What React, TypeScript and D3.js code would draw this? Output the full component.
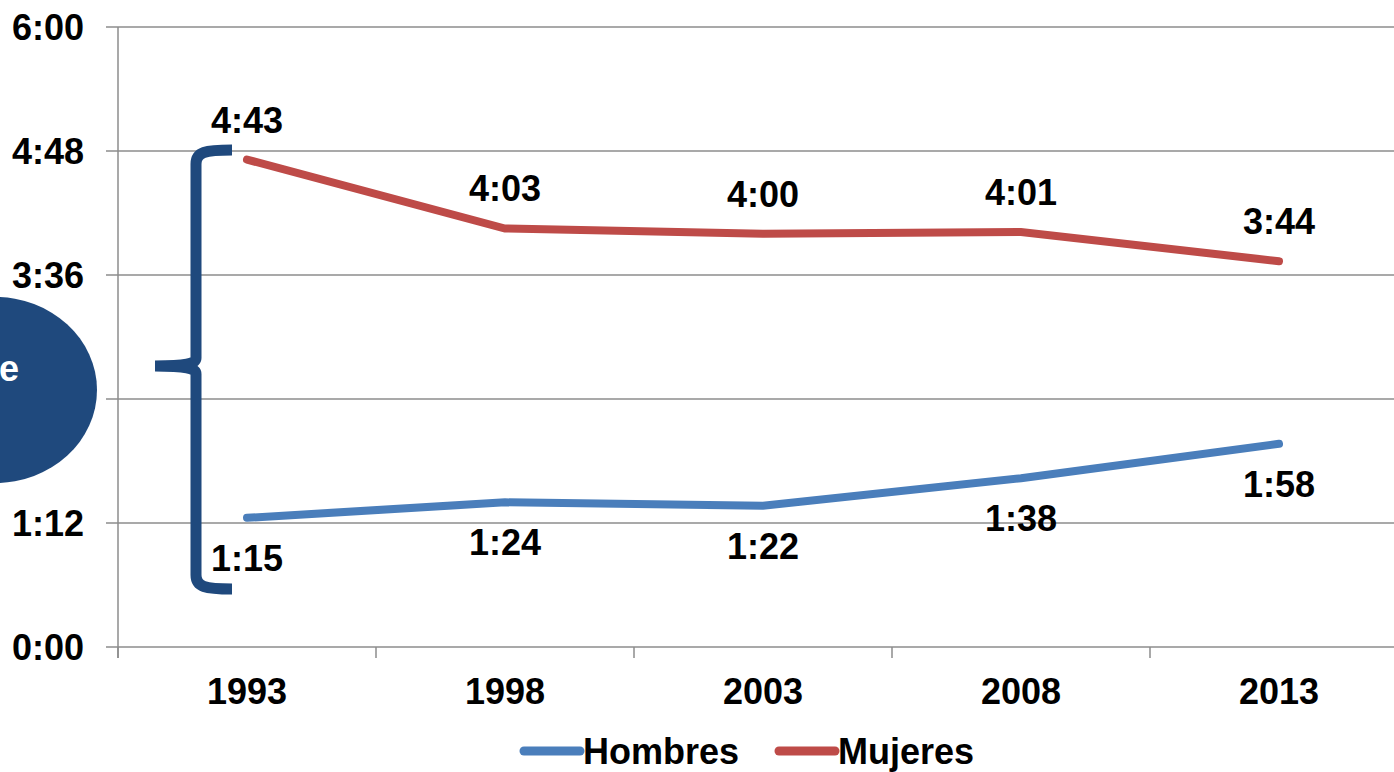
import React from "react";
import * as d3 from "d3";

const width = 1394;
const height = 772;
const margin = { top: 27, left: 118, bottom: 125 };
const plotRight = 1408;

const years = ["1993", "1998", "2003", "2008", "2013"];
const hombres = [75, 84, 82, 98, 118];
const mujeres = [283, 243, 240, 241, 224];
const yTicks = [0, 72, 144, 216, 288, 360];
const hiddenTicks = [144];

const blue = "#4A7EBB";
const red = "#BE4B48";
const navy = "#1F497D";
const grid = "#8C8C8C";
const font = "'Liberation Sans', Arial, sans-serif";
const fs = 36;

const fmt = (m: number) => `${Math.floor(m / 60)}:${String(m % 60).padStart(2, "0")}`;

export default function App() {
  const x = d3.scaleBand().domain(years).range([margin.left, plotRight]).padding(0);
  const y = d3.scaleLinear().domain([0, 360]).range([height - margin.bottom, margin.top]);
  const cx = (d: string) => (x(d) as number) + x.bandwidth() / 2;

  const line = d3
    .line<number>()
    .x((_, i) => cx(years[i]))
    .y((d) => y(d));

  const y0 = y(0);

  // curly brace path
  const bx = 196;
  const bTop = 150;
  const bBot = 589;
  const bMid = 366;
  const brace = `M232,${bTop} C205,${bTop} ${bx},${bTop + 2} ${bx},${bTop + 14} L${bx},${bMid - 8} C${bx},${bMid - 2} 185,${bMid} 155,${bMid} C185,${bMid} ${bx},${bMid + 2} ${bx},${bMid + 8} L${bx},${bBot - 14} C${bx},${bBot - 2} 205,${bBot} 232,${bBot}`;

  return (
    <svg width={width} height={height} style={{ position: "absolute", left: 0, top: 0 }} fontFamily={font}>
      <rect width={width} height={height} fill="#fff" />
      {yTicks.map((t) => (
        <g key={t}>
          <line x1={106} x2={plotRight} y1={y(t)} y2={y(t)} stroke={grid} strokeWidth={1.5} />
          {!hiddenTicks.includes(t) && (
            <text x={84} y={y(t)} dy="0.36em" textAnchor="end" fontSize={fs} fontWeight="bold">
              {fmt(t)}
            </text>
          )}
        </g>
      ))}
      <line x1={margin.left} x2={margin.left} y1={margin.top} y2={y0 + 11} stroke={grid} strokeWidth={1.5} />
      {years.map((yr) => (
        <g key={yr}>
          <line x1={x(yr)} x2={x(yr)} y1={y0} y2={y0 + 11} stroke={grid} strokeWidth={1.5} />
          <text x={cx(yr)} y={y0 + 44} dy="0.36em" textAnchor="middle" fontSize={fs} fontWeight="bold">
            {yr}
          </text>
        </g>
      ))}

      <path d={line(hombres) || ""} fill="none" stroke={blue} strokeWidth={8} strokeLinecap="round" />
      <path d={line(mujeres) || ""} fill="none" stroke={red} strokeWidth={8} strokeLinecap="round" />

      {mujeres.map((v, i) => (
        <text key={"m" + i} x={cx(years[i])} y={y(v) - 40} dy="0.36em" textAnchor="middle" fontSize={fs} fontWeight="bold">
          {fmt(v)}
        </text>
      ))}
      {hombres.map((v, i) => (
        <text key={"h" + i} x={cx(years[i])} y={y(v) + 40} dy="0.36em" textAnchor="middle" fontSize={fs} fontWeight="bold">
          {fmt(v)}
        </text>
      ))}

      <ellipse cx={-5} cy={390} rx={102} ry={93} fill={navy} />
      <text x={19} y={368} dy="0.36em" textAnchor="end" fontSize={fs} fontWeight="bold" fill="#fff">
        e
      </text>
      <path d={brace} fill="none" stroke={navy} strokeWidth={11} />

      <g fontSize={fs} fontWeight="bold">
        <line x1={524} x2={580} y1={751} y2={751} stroke={blue} strokeWidth={9} strokeLinecap="round" />
        <text x={583} y={751} dy="0.36em">Hombres</text>
        <line x1={779} x2={835} y1={751} y2={751} stroke={red} strokeWidth={9} strokeLinecap="round" />
        <text x={838} y={751} dy="0.36em">Mujeres</text>
      </g>
    </svg>
  );
}
